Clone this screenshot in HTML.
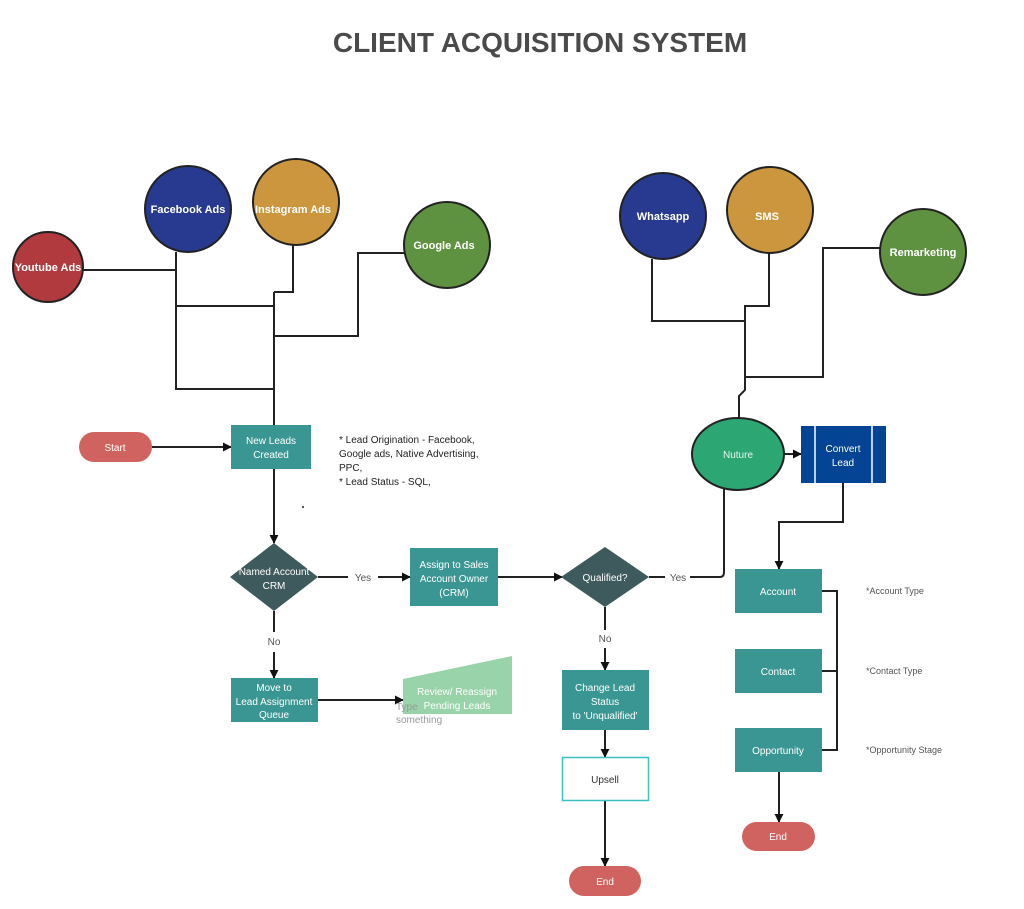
<!DOCTYPE html>
<html><head><meta charset="utf-8"><style>
html,body{margin:0;padding:0;background:#fff}
svg{display:block}
text{font-family:"Liberation Sans",sans-serif}
</style></head><body>
<svg width="1024" height="909" viewBox="0 0 1024 909" xmlns="http://www.w3.org/2000/svg">
<defs>
<marker id="a" viewBox="0 0 10 10" refX="9" refY="5" markerWidth="9" markerHeight="9" markerUnits="userSpaceOnUse" orient="auto"><path d="M0,0 L10,5 L0,10 z" fill="#111"/></marker>
</defs>
<text x="540" y="52" text-anchor="middle" font-size="28" font-weight="bold" fill="#4a4a4a">CLIENT ACQUISITION SYSTEM</text>

<g fill="none" stroke="#222" stroke-width="2">
<path d="M82,270 H176 V389 H274"/>
<path d="M176,252 V306 H274"/>
<path d="M293,245 V292 H274"/>
<path d="M405,253 H358 V336 H274"/>
<path d="M274,292 V425"/>
<path d="M152,447 H231" marker-end="url(#a)"/>
<path d="M274,469 V543" marker-end="url(#a)"/>
<path d="M318,577 H348 M378,577 H410" marker-end="url(#a)"/>
<path d="M498,577 H562" marker-end="url(#a)"/>
<path d="M649,577 H665 M690,577 H720 Q724,577 724,572 V482"/>
<path d="M274,611 V632 M274,652 V678" marker-end="url(#a)"/>
<path d="M318,700 H403" marker-end="url(#a)"/>
<path d="M605,607 V630 M605,648 V670" marker-end="url(#a)"/>
<path d="M605,730 V757" marker-end="url(#a)"/>
<path d="M605,801 V866" marker-end="url(#a)"/>
<path d="M652,259 V321 H745"/>
<path d="M769,253 V306 H745 V390 L739,396 V418"/>
<path d="M880,248 H823 V377 H745"/>
<path d="M784,454 H801" marker-end="url(#a)"/>
<path d="M843,483 V522 H779 V569" marker-end="url(#a)"/>
<path d="M822,591 H837 V750 H822 M822,671 H837"/>
<path d="M779,772 V822" marker-end="url(#a)"/>
</g>

<g stroke="#222" stroke-width="2">
<circle cx="48" cy="267" r="35" fill="#b03a3d"/>
<circle cx="188" cy="209" r="43" fill="#273a8f"/>
<circle cx="296" cy="202" r="43" fill="#cc963f"/>
<circle cx="447" cy="245" r="43" fill="#5e9240"/>
<circle cx="663" cy="216" r="43" fill="#273a8f"/>
<circle cx="770" cy="210" r="43" fill="#cc963f"/>
<circle cx="923" cy="252" r="43" fill="#5e9240"/>
<ellipse cx="738" cy="454" rx="46" ry="36" fill="#2ca673"/>
</g>
<g fill="#fff" font-size="11" font-weight="bold" text-anchor="middle">
<text x="48" y="271">Youtube Ads</text>
<text x="188" y="213">Facebook Ads</text>
<text x="293" y="213">Instagram Ads</text>
<text x="444" y="249">Google Ads</text>
<text x="663" y="220">Whatsapp</text>
<text x="767" y="220">SMS</text>
<text x="923" y="256">Remarketing</text>
</g>
<text x="738" y="458" fill="#e8f5ee" font-size="10" text-anchor="middle">Nuture</text>

<rect x="79" y="432" width="73" height="30" rx="15" fill="#d0625f"/>
<text x="115" y="451" fill="#fff" font-size="10" text-anchor="middle">Start</text>
<rect x="569" y="866" width="72" height="30" rx="15" fill="#d0625f"/>
<text x="605" y="885" fill="#fff" font-size="10" text-anchor="middle">End</text>
<rect x="742" y="822" width="73" height="29" rx="14.5" fill="#d0625f"/>
<text x="778" y="840" fill="#fff" font-size="10" text-anchor="middle">End</text>

<g fill="#3a9692">
<rect x="231" y="425" width="80" height="44"/>
<rect x="410" y="548" width="88" height="58"/>
<rect x="231" y="678" width="87" height="44"/>
<rect x="562" y="670" width="87" height="60"/>
<rect x="735" y="569" width="87" height="44"/>
<rect x="735" y="649" width="87" height="44"/>
<rect x="735" y="728" width="87" height="44"/>
</g>
<polygon points="274,543 318,577 274,611 230,577" fill="#3f5a5c"/>
<polygon points="605,547 649,577 605,607 561,577" fill="#3f5a5c"/>
<polygon points="403,679 512,656 512,714 403,714" fill="#98d3a9"/>
<rect x="562.5" y="757.5" width="86" height="43" fill="#fff" stroke="#3cc0c0" stroke-width="1.5"/>
<rect x="801" y="426" width="85" height="57" fill="#034494"/>
<path d="M815,426 V483 M872,426 V483" stroke="#fff" stroke-width="1.5"/>

<g fill="#fff" font-size="10" text-anchor="middle">
<text x="271" y="444">New Leads</text><text x="271" y="458">Created</text>
<text x="274" y="575">Named Account</text><text x="274" y="589">CRM</text>
<text x="454" y="568">Assign to Sales</text><text x="454" y="582">Account Owner</text><text x="454" y="596">(CRM)</text>
<text x="605" y="581">Qualified?</text>
<text x="274" y="691">Move to</text><text x="274" y="705">Lead Assignment</text><text x="274" y="718">Queue</text>
<text x="457" y="695">Review/ Reassign</text><text x="457" y="709">Pending Leads</text>
<text x="605" y="691">Change Lead</text><text x="605" y="705">Status</text><text x="605" y="719">to 'Unqualified'</text>
<text x="843" y="452">Convert</text><text x="843" y="466">Lead</text>
<text x="778" y="595">Account</text>
<text x="778" y="675">Contact</text>
<text x="778" y="754">Opportunity</text>
</g>
<text x="605" y="783" fill="#333" font-size="10" text-anchor="middle">Upsell</text>
<g fill="#555" font-size="10" text-anchor="middle">
<text x="363" y="581">Yes</text><text x="678" y="581">Yes</text>
<text x="274" y="645">No</text><text x="605" y="642">No</text>
</g>
<g fill="#999" font-size="10"><text x="396" y="710">Type</text><text x="396" y="723">something</text></g>
<g fill="#222" font-size="10">
<text x="339" y="443">* Lead Origination - Facebook,</text>
<text x="339" y="457">Google ads, Native Advertising,</text>
<text x="339" y="471">PPC,</text>
<text x="339" y="485">* Lead Status - SQL,</text>
</g>
<circle cx="303" cy="507" r="1" fill="#222"/>
<g fill="#555" font-size="9">
<text x="866" y="594">*Account  Type</text>
<text x="866" y="674">*Contact Type</text>
<text x="866" y="753">*Opportunity Stage</text>
</g>
</svg>
</body></html>
